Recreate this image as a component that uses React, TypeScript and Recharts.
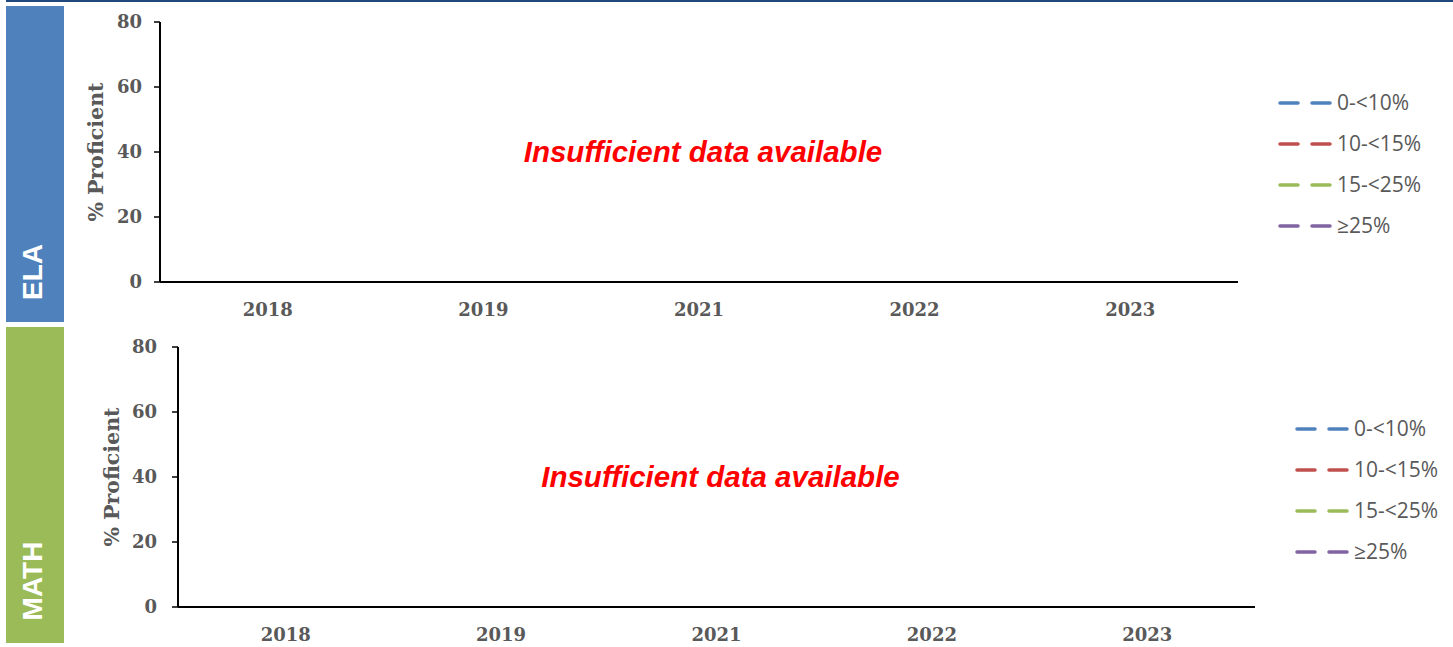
import React from 'react';
import { LineChart, Line, XAxis, YAxis, Legend, ReferenceLine } from 'recharts';

const years = ['2018', '2019', '2021', '2022', '2023'];
const yTicks = [0, 20, 40, 60, 80];
const seriesNames = ['0-<10%', '10-<15%', '15-<25%', '≥25%'];
const seriesColors = ['#4F81BD', '#C0504D', '#9BBB59', '#8064A2'];

// No values are shown in the reference ("Insufficient data available")
const elaLow: (number | null)[] = [null, null, null, null, null];
const elaMidLow: (number | null)[] = [null, null, null, null, null];
const elaMidHigh: (number | null)[] = [null, null, null, null, null];
const elaHigh: (number | null)[] = [null, null, null, null, null];

const mathLow: (number | null)[] = [null, null, null, null, null];
const mathMidLow: (number | null)[] = [null, null, null, null, null];
const mathMidHigh: (number | null)[] = [null, null, null, null, null];
const mathHigh: (number | null)[] = [null, null, null, null, null];

const buildRows = (s: (number | null)[][]) =>
  years.map((y, i) => ({ year: y, s0: s[0][i], s1: s[1][i], s2: s[2][i], s3: s[3][i] }));

const elaData = buildRows([elaLow, elaMidLow, elaMidHigh, elaHigh]);
const mathData = buildRows([mathLow, mathMidLow, mathMidHigh, mathHigh]);

const GREY = '#595959';
const tickStyle = { fill: GREY, fontFamily: 'DejaVu Serif', fontWeight: 'bold', fontSize: 18 } as any;

const makeLegend = (padTop: number) => (props: any) => {
  const payload = props.payload || [];
  return (
    <div style={{ width: 198, boxSizing: 'border-box', paddingLeft: 40, paddingTop: padTop }}>
      {payload.map((p: any, i: number) => (
        <div key={i} style={{ height: 41, display: 'flex', alignItems: 'center' }}>
          <svg width={54} height={6} style={{ display: 'block' }}>
            <line x1={2} x2={52} y1={3} y2={3} stroke={p.color} strokeWidth={3.5}
              strokeDasharray="18 14" strokeLinecap="round" />
          </svg>
          <span style={{ marginLeft: 5, fontFamily: 'Open Sans', fontSize: 21, color: GREY, lineHeight: '21px' }}>
            {p.value}
          </span>
        </div>
      ))}
    </div>
  );
};

const yLabel = (dxOff: number) => (props: any) => {
  const vb = props.viewBox || {};
  const cx = vb.x + dxOff;
  const cy = vb.y + vb.height / 2;
  return (
    <text x={cx} y={cy} transform={`rotate(-90 ${cx} ${cy})`} textAnchor="middle" dominantBaseline="central"
      fill={GREY} fontFamily="DejaVu Serif" fontWeight="bold" fontSize={20.5}>
      % Proficient
    </text>
  );
};

type PanelProps = {
  data: any[];
  top: number;
  height: number;
  margin: any;
  yWidth: number;
  yTickMargin: number;
  labelOff: number;
  legendPad: number;
};

const Panel = ({ data, top, height, margin, yWidth, yTickMargin, labelOff, legendPad }: PanelProps) => (
  <div style={{ position: 'absolute', left: 64, top }}>
    <LineChart width={1389} height={height} data={data} margin={margin}>
      <XAxis dataKey="year" type="category" scale="band" height={30} tickLine={false} tickSize={0} tickMargin={21}
        axisLine={{ stroke: '#000', strokeWidth: 2 }} tick={tickStyle} interval={0} />
      <YAxis type="number" domain={[0, 80]} allowDataOverflow ticks={yTicks} width={yWidth} tickSize={6}
        tickMargin={yTickMargin} axisLine={{ stroke: '#000', strokeWidth: 2 }}
        tickLine={{ stroke: '#000', strokeWidth: 1.5 }}
        tick={tickStyle} label={{ value: '% Proficient', content: yLabel(labelOff) }} />
      <ReferenceLine y={40} stroke="none" strokeWidth={0} ifOverflow="visible"
        label={{ value: 'Insufficient data available', position: 'center', fill: '#FF0000', fontSize: 29.5,
          fontWeight: 'bold', fontStyle: 'italic', fontFamily: 'Liberation Sans', dx: 4 }} />
      {seriesNames.map((n, i) => (
        <Line key={n} dataKey={`s${i}`} name={n} stroke={seriesColors[i]} strokeWidth={3}
          strokeDasharray="19 13" dot={false} isAnimationActive={false} />
      ))}
      <Legend layout="vertical" align="right" verticalAlign="middle" content={makeLegend(legendPad)} />
    </LineChart>
  </div>
);

const SideBox = ({ top, color, label, cy }: { top: number; color: string; label: string; cy: number }) => (
  <svg width={58} height={316} style={{ position: 'absolute', left: 6, top }}>
    <rect x={0} y={0} width={58} height={316} fill={color} />
    <text x={26} y={cy} transform={`rotate(-90 26 ${cy})`} textAnchor="middle" dominantBaseline="central"
      fill="#FFFFFF" fontFamily="Liberation Sans" fontWeight="bold" fontSize={28}>
      {label}
    </text>
  </svg>
);

export default function App() {
  return (
    <div style={{ position: 'absolute', left: 0, top: 0, width: 1453, height: 647, background: '#fff', overflow: 'hidden' }}>
      <div style={{ position: 'absolute', left: 6, top: 0, width: 1447, height: 2, background: '#1F497D' }} />
      <SideBox top={6} color="#4F81BD" label="ELA" cy={266} />
      <SideBox top={327} color="#9BBB59" label="MATH" cy={254} />
      <Panel data={elaData} top={6} height={316} margin={{ top: 16, right: 17, bottom: 10, left: 0 }} yWidth={96}
        yTickMargin={12} labelOff={32} legendPad={0} />
      <Panel data={mathData} top={327} height={320} margin={{ top: 20, right: 0, bottom: 10, left: 0 }} yWidth={114}
        yTickMargin={15} labelOff={48} legendPad={6} />
    </div>
  );
}
